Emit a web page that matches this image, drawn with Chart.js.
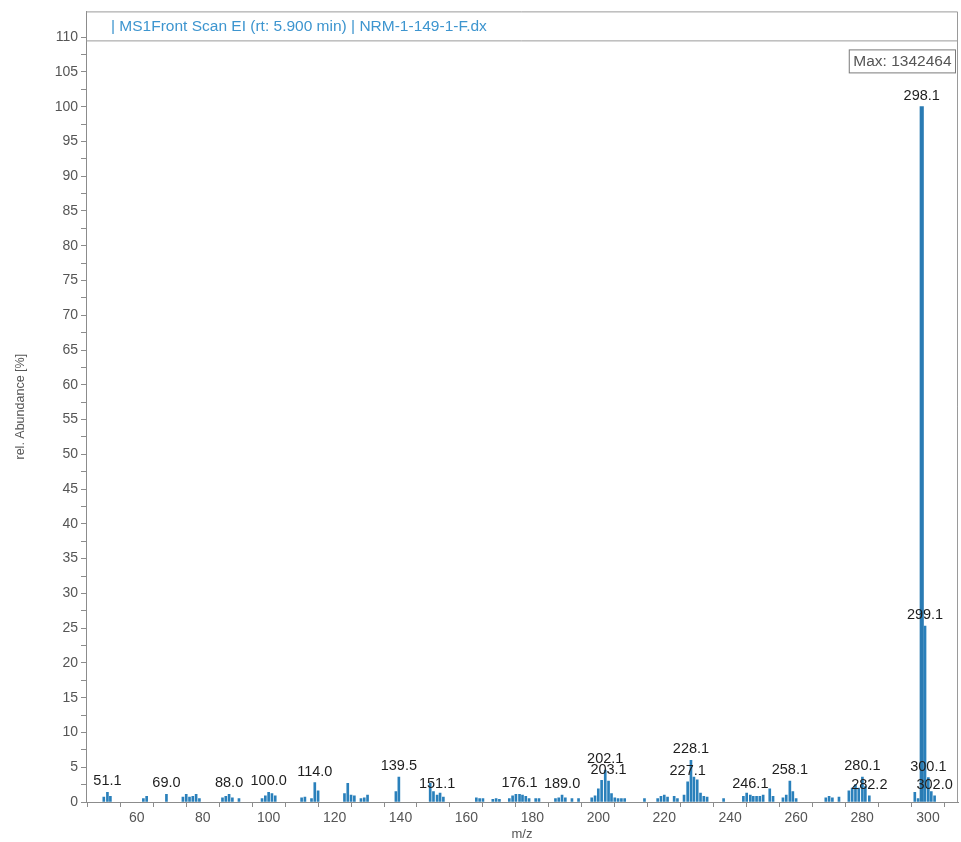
<!DOCTYPE html>
<html>
<head>
<meta charset="utf-8">
<script src="https://cdn.jsdelivr.net/npm/chart.js@4/dist/chart.umd.min.js"></script>
<style>
  html, body { margin: 0; padding: 0; background: #fff; }
  #wrap { width: 961px; height: 842px; }
</style>
</head>
<body>
<div id="wrap"><canvas id="spectrum"></canvas></div>
<script>
// EI mass spectrum, relative abundance (%) per m/z
const mzValues = [
  50.0, 51.1, 52.0, 62.0, 63.0, 69.0, 74.0, 75.0, 76.0, 77.0, 78.0, 79.0,
  86.0, 87.0, 88.0, 89.0, 91.0, 98.0, 99.0, 100.0, 101.0, 102.0,
  110.0, 111.0, 113.0, 114.0, 115.0, 123.0, 124.0, 125.0, 126.0, 128.0, 129.0, 130.0,
  138.6, 139.5, 149.0, 150.0, 151.1, 152.0, 153.0,
  163.0, 164.0, 165.0, 168.0, 169.0, 170.0, 173.0, 174.0, 175.0, 176.1, 177.0, 178.0, 179.0, 181.0, 182.0,
  187.0, 188.0, 189.0, 190.0, 192.0, 194.0,
  198.0, 199.0, 200.0, 201.0, 202.1, 203.1, 204.0, 205.0, 206.0, 207.0, 208.0,
  214.0, 218.0, 219.0, 220.0, 221.0, 223.0, 224.0, 226.0, 227.1, 228.1, 229.0, 230.0, 231.0, 232.0, 233.0,
  238.0, 244.0, 245.0, 246.1, 247.0, 248.0, 249.0, 250.0, 252.0, 253.0,
  256.0, 257.0, 258.1, 259.0, 260.0, 269.0, 270.0, 271.0, 273.0,
  276.0, 277.0, 278.0, 279.0, 280.1, 281.0, 282.2,
  296.0, 297.0, 298.1, 299.1, 300.1, 301.0, 302.0
];
const abundances = [
  0.7, 1.4, 0.8, 0.5, 0.8, 1.1, 0.7, 1.1, 0.7, 0.8, 1.1, 0.5,
  0.6, 0.8, 1.1, 0.6, 0.5, 0.5, 0.9, 1.4, 1.2, 0.9,
  0.6, 0.7, 0.5, 2.8, 1.6, 1.2, 2.7, 1.0, 0.9, 0.5, 0.6, 1.0,
  1.5, 3.6, 2.7, 1.5, 1.0, 1.3, 0.7,
  0.6, 0.5, 0.5, 0.4, 0.5, 0.4, 0.5, 0.9, 1.1, 1.1, 1.0, 0.8, 0.5, 0.5, 0.5,
  0.5, 0.6, 1.0, 0.6, 0.5, 0.5,
  0.6, 0.9, 1.9, 3.1, 4.6, 3.0, 1.2, 0.6, 0.5, 0.5, 0.5,
  0.5, 0.5, 0.8, 1.0, 0.7, 0.8, 0.5, 1.0, 2.9, 6.0, 3.6, 3.2, 1.3, 0.8, 0.7,
  0.5, 0.8, 1.3, 1.0, 0.8, 0.8, 0.8, 1.0, 1.9, 0.8,
  0.6, 1.0, 3.0, 1.5, 0.5, 0.6, 0.8, 0.6, 0.7,
  1.6, 2.0, 2.5, 2.0, 3.6, 2.2, 0.9,
  1.4, 0.5, 100.0, 25.3, 3.5, 1.5, 0.9
];
// peaks annotated with their m/z
const labelledPeaks = [
  51.1, 69.0, 88.0, 100.0, 114.0, 139.5, 151.1, 176.1, 189.0,
  202.1, 203.1, 227.1, 228.1, 246.1, 258.1, 280.1, 282.2,
  298.1, 299.1, 300.1, 302.0
];
const basePeakMz = 298.1;
const maxIntensity = 1342464;
const headerText = '| MS1Front Scan EI (rt: 5.900 min) | NRM-1-149-1-F.dx';
const xTickValues = [50, 60, 70, 80, 90, 100, 110, 120, 130, 140, 150, 160, 170, 180, 190, 200, 210, 220, 230, 240, 250, 260, 270, 280, 290, 300];
const yTickValues = [0, 2.5, 5, 7.5, 10, 12.5, 15, 17.5, 20, 22.5, 25, 27.5, 30, 32.5, 35, 37.5, 40, 42.5, 45, 47.5, 50, 52.5, 55, 57.5, 60, 62.5, 65, 67.5, 70, 72.5, 75, 77.5, 80, 82.5, 85, 87.5, 90, 92.5, 95, 97.5, 100, 102.5, 105, 107.5, 110];

const FONT = "'Liberation Sans', Arial, sans-serif";
const BAR = '#2a80bb';
const AXIS = '#8c8c8c';

const points = mzValues.map((x, i) => ({ x, y: abundances[i] }));
const minorPeaks = points.filter(p => p.x !== basePeakMz);
const basePeak = points.filter(p => p.x === basePeakMz);

// header strip, frame and the "Max" box
const framePlugin = {
  id: 'frame',
  afterDraw(chart) {
    const { ctx, chartArea: a } = chart;
    ctx.save();
    ctx.fillStyle = '#fff';
    ctx.fillRect(a.left + 1, a.top, a.right - a.left - 1, 29);
    ctx.strokeStyle = '#9a9a9a';
    ctx.lineWidth = 1;
    ctx.beginPath();
    ctx.moveTo(a.left, a.top + 0.5); ctx.lineTo(a.right - 0.5, a.top + 0.5);
    ctx.lineTo(a.right - 0.5, a.bottom);
    ctx.moveTo(a.left, a.top + 29.5); ctx.lineTo(a.right - 0.5, a.top + 29.5);
    ctx.stroke();
    ctx.font = '15.5px ' + FONT;
    ctx.fillStyle = '#3d95cf';
    ctx.textBaseline = 'middle';
    ctx.textAlign = 'left';
    ctx.fillText(headerText, a.left + 25, a.top + 15);

    const maxText = 'Max: ' + maxIntensity;
    ctx.font = '15.5px ' + FONT;
    const w = ctx.measureText(maxText).width + 8;
    const bx = a.right - 3 - w, by = a.top + 38;
    ctx.fillStyle = '#fff';
    ctx.fillRect(bx, by, w, 23);
    ctx.strokeStyle = '#7a7a7a';
    ctx.strokeRect(bx + 0.5, by + 0.5, w, 23);
    ctx.fillStyle = '#555';
    ctx.textAlign = 'center';
    ctx.fillText(maxText, bx + w / 2 + 0.5, by + 12.5);
    ctx.restore();
  }
};

// m/z annotations above the labelled peaks
const peakLabelPlugin = {
  id: 'peakLabels',
  afterDatasetsDraw(chart) {
    const { ctx } = chart;
    const xs = chart.scales.x, ys = chart.scales.y;
    ctx.save();
    ctx.font = '14.5px ' + FONT;
    ctx.fillStyle = '#1e1e1e';
    ctx.textAlign = 'center';
    ctx.textBaseline = 'alphabetic';
    labelledPeaks.forEach(mz => {
      const i = mzValues.indexOf(mz);
      if (i < 0) return;
      const px = xs.getPixelForValue(mz);
      const py = ys.getPixelForValue(abundances[i]);
      ctx.fillText(mz.toFixed(1), px, py - 7);
    });
    ctx.restore();
  }
};

new Chart(document.getElementById('spectrum'), {
  type: 'bar',
  data: {
    datasets: [
      { label: 'spectrum', data: minorPeaks, backgroundColor: BAR, barThickness: 2, grouped: false },
      { label: 'base peak', data: basePeak, backgroundColor: '#2a7bb3', barThickness: 3.5, grouped: false }
    ]
  },
  options: {
    responsive: true,
    maintainAspectRatio: false,
    animation: false,
    devicePixelRatio: 1,
    layout: { padding: { top: 11, right: 3, left: 0, bottom: 0 } },
    plugins: { legend: { display: false }, tooltip: { enabled: false } },
    scales: {
      x: {
        type: 'linear',
        min: 44.6,
        max: 309.1,
        offset: false,
        afterBuildTicks: s => { s.ticks = xTickValues.map(v => ({ value: v })); },
        afterFit: s => { s.height = 40; },
        border: { color: AXIS, width: 1 },
        grid: { drawOnChartArea: false, tickLength: 5, color: AXIS },
        ticks: {
          autoSkip: false, maxRotation: 0, padding: 3,
          color: '#555', font: { family: FONT, size: 14 },
          callback: v => (v % 20 === 0 ? String(v) : '')
        },
        title: { display: true, text: 'm/z', color: '#555', font: { family: FONT, size: 13 }, padding: { top: 0, bottom: 0 } }
      },
      y: {
        min: 0,
        max: 113.7,
        afterBuildTicks: s => { s.ticks = yTickValues.map(v => ({ value: v })); },
        afterFit: s => { s.width = 86; },
        border: { color: AXIS, width: 1 },
        grid: { drawOnChartArea: false, tickLength: 5, color: AXIS },
        ticks: {
          autoSkip: false, padding: 3,
          color: '#555', font: { family: FONT, size: 14 },
          callback: v => (v % 5 === 0 ? String(v) : '')
        },
        title: { display: true, text: 'rel. Abundance [%]', color: '#555', font: { family: FONT, size: 12.5 }, padding: { top: 13, bottom: 0 } }
      }
    }
  },
  plugins: [framePlugin, peakLabelPlugin]
});
</script>
</body>
</html>
